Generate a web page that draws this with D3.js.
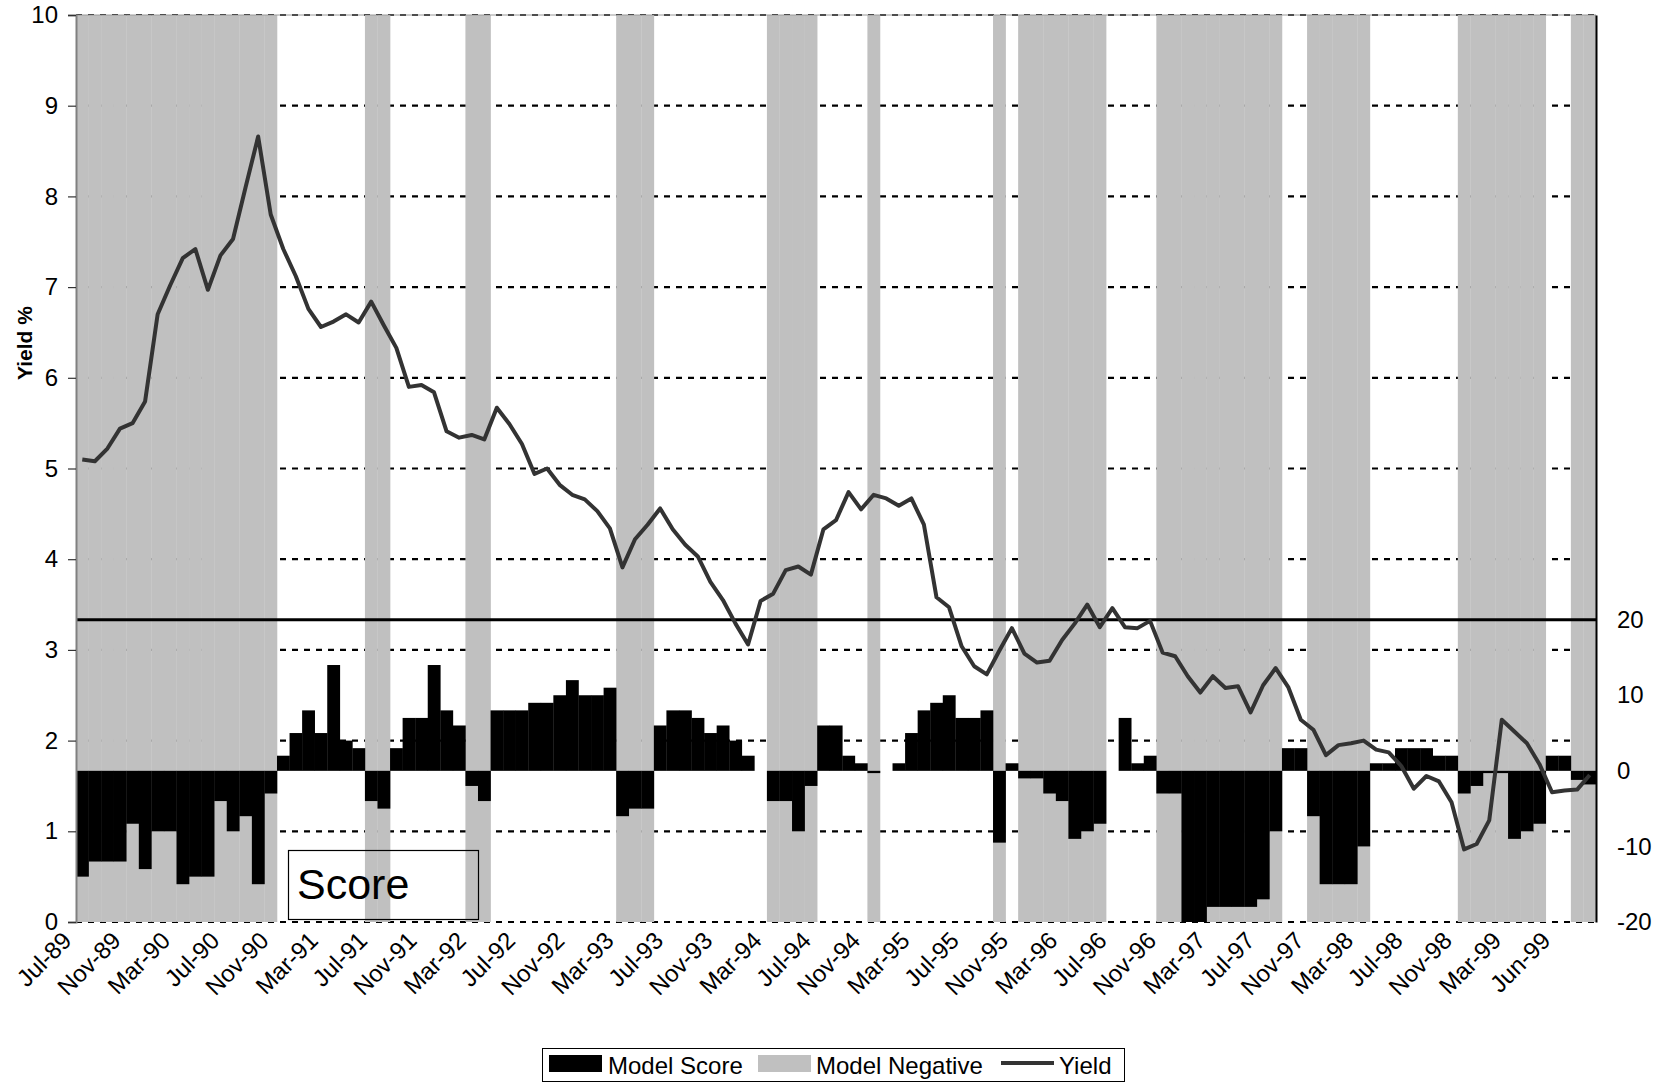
<!DOCTYPE html>
<html>
<head>
<meta charset="utf-8">
<script src="https://cdn.jsdelivr.net/npm/d3@7/dist/d3.min.js"></script>
<style>
  body { margin: 0; background: #fff; }
  svg { display: block; }
  text { font-family: "Liberation Sans", Arial, Helvetica, sans-serif; fill: #000; }
</style>
</head>
<body>
<svg id="chart" width="1669" height="1083"></svg>
<script>
// Monthly observations, Jul-89 onwards (121 months)
const months = d3.timeMonth.range(new Date(1989, 6, 1), new Date(1999, 7, 1));

// Bond yield, % (left axis)
const yieldPct = [
  5.10, 5.08, 5.22, 5.44, 5.50, 5.74, 6.70, 7.02, 7.32, 7.42, 6.97, 7.35,
  7.53, 8.10, 8.66, 7.80, 7.42, 7.12, 6.76, 6.56, 6.62, 6.70, 6.61, 6.84,
  6.58, 6.33, 5.90, 5.92, 5.84, 5.41, 5.34, 5.37, 5.32, 5.67, 5.49, 5.27,
  4.94, 5.00, 4.82, 4.71, 4.66, 4.53, 4.34, 3.91, 4.22, 4.38, 4.56, 4.33,
  4.16, 4.03, 3.75, 3.55, 3.29, 3.06, 3.54, 3.62, 3.88, 3.92, 3.83, 4.33,
  4.43, 4.74, 4.55, 4.71, 4.67, 4.59, 4.67, 4.38, 3.58, 3.47, 3.04, 2.82,
  2.73, 2.99, 3.24, 2.96, 2.86, 2.88, 3.11, 3.29, 3.50, 3.25, 3.46, 3.25,
  3.24, 3.32, 2.97, 2.93, 2.71, 2.53, 2.71, 2.58, 2.60, 2.31, 2.61, 2.80,
  2.59, 2.23, 2.12, 1.84, 1.95, 1.97, 2.00, 1.90, 1.87, 1.72, 1.47, 1.61,
  1.55, 1.32, 0.80, 0.86, 1.12, 2.23, 2.10, 1.97, 1.74, 1.43, 1.45, 1.46,
  1.62
];

// Model score (right axis)
const modelScore = [
  -14, -12, -12, -12, -7, -13, -8, -8, -15, -14, -14, -4,
  -8, -6, -15, -3, 2, 5, 8, 5, 14, 4, 3, -4,
  -5, 3, 7, 7, 14, 8, 6, -2, -4, 8, 8, 8,
  9, 9, 10, 12, 10, 10, 11, -6, -5, -5, 6, 8,
  8, 7, 5, 6, 4, 2, 0, -4, -4, -8, -2, 6,
  6, 2, 1, -0.3, 0, 1, 5, 8, 9, 10, 7, 7,
  8, -9.5, 1, -1, -1, -3, -4, -9, -8, -7, 0, 7,
  1, 2, -3, -3, -20, -20, -18, -18, -18, -18, -17, -8,
  3, 3, -6, -15, -15, -15, -10, 1, 1, 3, 3, 3,
  2, 2, -3, -2, -0.3, -0.3, -9, -8, -7, 2, 2, -1.2,
  -1.8
];

// Category-axis labels, every fourth month
const tickLabels = [
  "Jul-89", "Nov-89", "Mar-90", "Jul-90", "Nov-90", "Mar-91", "Jul-91", "Nov-91",
  "Mar-92", "Jul-92", "Nov-92", "Mar-93", "Jul-93", "Nov-93", "Mar-94", "Jul-94",
  "Nov-94", "Mar-95", "Jul-95", "Nov-95", "Mar-96", "Jul-96", "Nov-96", "Mar-97",
  "Jul-97", "Nov-97", "Mar-98", "Jul-98", "Nov-98", "Mar-99", "Jun-99"
];

const leftTicks = d3.range(0, 11);
const rightTicks = [-20, -10, 0, 10, 20];
const scoreCeiling = 20;

// ---- layout ----
const L = 76, R = 1596, T = 15, B = 922;
const svg = d3.select("#chart");

const x = d3.scaleBand().domain(d3.range(months.length)).range([L, R]).padding(0);
const yL = d3.scaleLinear().domain([0, 10]).range([B, T]);
const yR = d3.scaleLinear().domain([-20, 100]).range([B, T]);
const xLab = d3.scalePoint().domain(tickLabels).range([73, 1552]);

// dashed gridlines
svg.append("g").selectAll("line").data(leftTicks).join("line")
  .attr("x1", L).attr("x2", R)
  .attr("y1", d => yL(d)).attr("y2", d => yL(d))
  .attr("stroke", "#000").attr("stroke-width", 2.2).attr("stroke-dasharray", "6,6");

// shaded months where the model is negative
svg.append("g").selectAll("rect").data(modelScore.map((v, i) => ({ v, i })).filter(d => d.v < 0)).join("rect")
  .attr("x", d => x(d.i)).attr("width", x.bandwidth() + 0.3)
  .attr("y", yR(100)).attr("height", yR(-20) - yR(100))
  .attr("fill", "#c0c0c0");

// model score bars
svg.append("g").selectAll("rect").data(modelScore.map((v, i) => ({ v, i })).filter(d => d.v !== 0)).join("rect")
  .attr("x", d => x(d.i)).attr("width", x.bandwidth() + 0.3)
  .attr("y", d => yR(Math.max(0, d.v))).attr("height", d => Math.abs(yR(d.v) - yR(0)))
  .attr("fill", "#000");

// plot frame
svg.append("line").attr("x1", L).attr("x2", R).attr("y1", T).attr("y2", T)
  .attr("stroke", "#9a9a9a").attr("stroke-width", 1);

// score ceiling line
svg.append("line").attr("x1", L).attr("x2", R)
  .attr("y1", yR(scoreCeiling)).attr("y2", yR(scoreCeiling))
  .attr("stroke", "#000").attr("stroke-width", 3);

// yield line
svg.append("path").datum(yieldPct)
  .attr("fill", "none").attr("stroke", "#333").attr("stroke-width", 4)
  .attr("stroke-linejoin", "round")
  .attr("d", d3.line().x((d, i) => x(i) + x.bandwidth() / 2).y(d => yL(d)));

// left axis
const gl = svg.append("g").attr("transform", `translate(${L},0)`)
  .call(d3.axisLeft(yL).tickValues(leftTicks).tickSize(8).tickPadding(10).tickFormat(d3.format("d")));
gl.select(".domain").attr("stroke", "#808080").attr("stroke-width", 2);
gl.selectAll(".tick line").attr("stroke", "#333").attr("stroke-width", 1.2);
gl.selectAll(".tick text").style("font-size", "24px").attr("font-family", null);

// right axis
const gr = svg.append("g").attr("transform", `translate(${R},0)`)
  .call(d3.axisRight(yR).tickValues(rightTicks).tickSize(0).tickPadding(21).tickFormat(d => String(d)));
gr.select(".domain").attr("stroke", "#000").attr("stroke-width", 2);
gr.selectAll(".tick text").style("font-size", "24px").attr("font-family", null);

// category labels
svg.append("g").selectAll("text").data(tickLabels).join("text")
  .attr("transform", d => `translate(${xLab(d)},942) rotate(-45)`)
  .attr("text-anchor", "end")
  .style("font-size", "24px")
  .text(d => d);

// axis title
svg.append("text")
  .attr("transform", "translate(32,343) rotate(-90)")
  .attr("text-anchor", "middle")
  .style("font-size", "21px").style("font-weight", "bold")
  .text("Yield %");

// "Score" panel label
svg.append("rect").attr("x", 288.5).attr("y", 850.5).attr("width", 190).attr("height", 69)
  .attr("fill", "none").attr("stroke", "#000").attr("stroke-width", 1.2);
svg.append("text").attr("x", 297).attr("y", 899)
  .style("font-size", "43px").text("Score");

// legend
const lg = svg.append("g");
lg.append("rect").attr("x", 542.5).attr("y", 1048.5).attr("width", 582).attr("height", 33)
  .attr("fill", "#fff").attr("stroke", "#000").attr("stroke-width", 1);
lg.append("rect").attr("x", 549).attr("y", 1055).attr("width", 53).attr("height", 17).attr("fill", "#000");
lg.append("text").attr("x", 608).attr("y", 1074).style("font-size", "24px").text("Model Score");
lg.append("rect").attr("x", 758).attr("y", 1055).attr("width", 53).attr("height", 17).attr("fill", "#c0c0c0");
lg.append("text").attr("x", 816).attr("y", 1074).style("font-size", "24px").text("Model Negative");
lg.append("line").attr("x1", 1001).attr("x2", 1054).attr("y1", 1063).attr("y2", 1063)
  .attr("stroke", "#333").attr("stroke-width", 4);
lg.append("text").attr("x", 1059).attr("y", 1074).style("font-size", "24px").text("Yield");
</script>
</body>
</html>
